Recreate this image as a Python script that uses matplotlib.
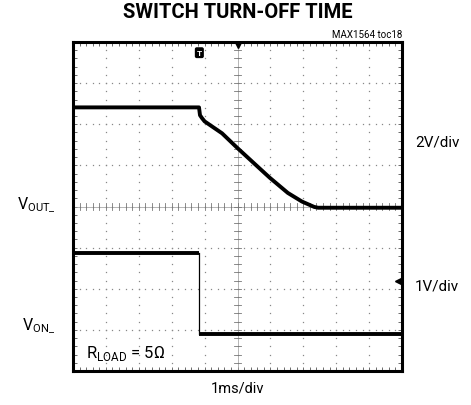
import numpy as np
import matplotlib
matplotlib.use("Agg")
import matplotlib.pyplot as plt

# ---- data (x in ms / divisions, y in screen divisions from bottom) ----
vout_t = [0.0, 3.83, 3.86, 3.92, 4.0, 4.53, 5.0, 5.53, 5.98, 6.53, 6.96, 7.33, 7.45, 10.0]
vout_v = [6.41, 6.41, 6.22, 6.15, 6.07, 5.78, 5.42, 5.03, 4.70, 4.33, 4.12, 3.99, 3.97, 3.97]
von_t = [0.0, 3.83, 3.83, 10.0]
von_v = [2.86, 2.86, 0.90, 0.90]

title = "SWITCH TURN-OFF TIME"
ref_label = "MAX1564 toc18"
ch1_scale = "2V/div"
ch2_scale = "1V/div"
time_scale = "1ms/div"

plt.rcParams['font.family'] = ['Roboto', 'DejaVu Sans']
plt.rcParams['mathtext.fontset'] = 'custom'
plt.rcParams['mathtext.rm'] = 'Roboto'

fig = plt.figure(figsize=(4.71, 4.06), dpi=100)
ax = fig.add_axes([73/471, 34/406, 329/471, 329/406])
ax.set_xlim(0, 10)
ax.set_ylim(0, 8)

# dotted graticule
for gx in range(1, 10):
    ys = np.arange(0, 8.001, 0.2)
    ax.plot([gx]*len(ys), ys, ls='none', marker='s', ms=0.9, color='#888888', mew=0)
for gy in range(1, 8):
    xs = np.arange(0, 10.001, 0.2)
    ax.plot(xs, [gy]*len(xs), ls='none', marker='s', ms=0.9, color='#888888', mew=0)
# center cross with small ticks
ax.axhline(4, color='#999999', lw=0.5)
ax.axvline(5, color='#999999', lw=0.5)
for t in np.arange(0.2, 10, 0.2):
    ax.plot([t, t], [3.92, 4.08], color='#777777', lw=0.6)
for t in np.arange(0.2, 8, 0.2):
    ax.plot([4.9, 5.1], [t, t], color='#777777', lw=0.6)

# traces
ax.plot(vout_t, vout_v, color='black', lw=2.8, solid_joinstyle='round', solid_capstyle='butt')
ax.plot(von_t[:2], von_v[:2], color='black', lw=2.8, solid_capstyle='butt')
ax.plot(von_t[1:3], von_v[1:3], color='black', lw=0.9)
ax.plot(von_t[2:], von_v[2:], color='black', lw=2.8, solid_capstyle='butt')

# markers
ax.plot(5, 7.93, marker='v', color='black', ms=5, clip_on=False)
ax.text(3.84, 7.74, "T", ha='center', va='center', fontsize=6, fontweight='bold',
        color='white', bbox=dict(boxstyle='round,pad=0.15', fc='black', ec='black'))
ax.plot(9.88, 2.2, marker='<', color='black', ms=4)

# axes box
ax.set_xticks(np.arange(0, 10.01, 1))
ax.set_yticks(np.arange(0, 8.01, 1))
ax.set_xticks(np.arange(0, 10.01, 0.2), minor=True)
ax.set_yticks(np.arange(0, 8.01, 0.2), minor=True)
ax.tick_params(which='both', direction='in', top=True, right=True,
               labelbottom=False, labelleft=False, length=3, width=0.6, color='#555555')
for s in ax.spines.values():
    s.set_linewidth(2.2)

# text
fig.text(238/471, 1 - 12/406, title, ha='center', va='center', fontsize=14.5, fontweight='bold')
fig.text(402/471, 1 - 35/406, ref_label, ha='right', va='center', fontsize=7)
fig.text(415/471, 1 - 143/406, ch1_scale, ha='left', va='center', fontsize=11)
fig.text(415/471, 1 - 287/406, ch2_scale, ha='left', va='center', fontsize=11)
fig.text(238/471, 1 - 389/406, time_scale, ha='center', va='center', fontsize=10.5)
fig.text(17/471, 1 - 205/406, r"V$_{\mathregular{OUT\_}}$", ha='left', va='center', fontsize=11.5)
fig.text(22/471, 1 - 326/406, r"V$_{\mathregular{ON\_}}$", ha='left', va='center', fontsize=11.5)
ax.text(0.4, 0.45, r"R$_{\mathregular{LOAD}}$ = 5$\mathregular{\Omega}$", ha='left', va='center', fontsize=12)

fig.savefig("out.png", dpi=100)
